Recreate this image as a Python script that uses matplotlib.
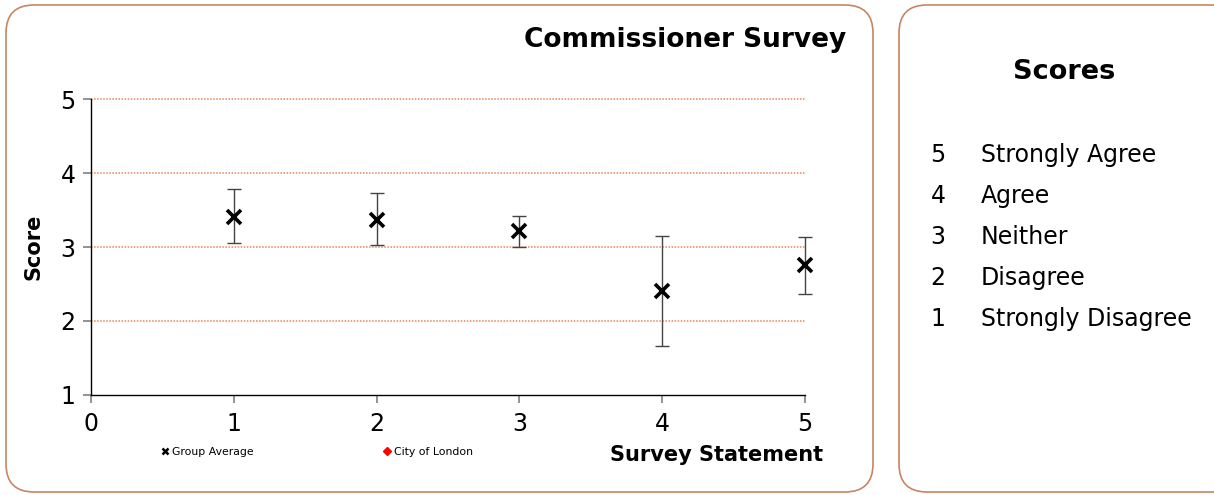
import matplotlib
matplotlib.use('Agg')
from matplotlib import pyplot as plt
from matplotlib.patches import FancyBboxPatch
from matplotlib.lines import Line2D

# survey data
statements = [1, 2, 3, 4, 5]
group_avg = [3.41, 3.37, 3.21, 2.41, 2.76]
err_low = [3.06, 3.03, 3.00, 1.66, 2.37]
err_high = [3.78, 3.73, 3.42, 3.15, 3.14]

score_values = [5, 4, 3, 2, 1]
score_labels = ['Strongly Agree', 'Agree', 'Neither', 'Disagree', 'Strongly Disagree']

plt.rcParams['font.family'] = ['DejaVu Sans']

fig = plt.figure(figsize=(12.14, 4.95), dpi=100)

# background layer in pixel units for the rounded panels
bg = fig.add_axes([0, 0, 1, 1])
bg.set_xlim(0, 1214)
bg.set_ylim(495, 0)
bg.axis('off')
box_col = '#C98462'
bg.add_patch(FancyBboxPatch((6, 5), 867, 487, boxstyle='round,pad=0,rounding_size=28',
                            fc='white', ec=box_col, lw=1.2))
bg.add_patch(FancyBboxPatch((899, 5), 340, 487, boxstyle='round,pad=0,rounding_size=28',
                            fc='white', ec=box_col, lw=1.2))

# main chart
ax = fig.add_axes([91 / 1214, 1 - 395 / 495, (805 - 91) / 1214, (395 - 99) / 495])
ax.set_xlim(0, 5)
ax.set_ylim(1, 5)
ax.set_xticks([0, 1, 2, 3, 4, 5])
ax.set_yticks([1, 2, 3, 4, 5])
for y in [2, 3, 4, 5]:
    ax.axhline(y, color='#E8845A', lw=1.1, ls=(0, (1, 1)), zorder=1, clip_on=False)

lower = [m - lo for m, lo in zip(group_avg, err_low)]
upper = [hi - m for m, hi in zip(group_avg, err_high)]
ax.errorbar(statements, group_avg, yerr=[lower, upper], fmt='none', ecolor='#444444',
            elinewidth=1, capsize=5, capthick=1, zorder=2, clip_on=False)
ax.plot(statements, group_avg, ls='none', marker='x', color='black', ms=10, mew=2.6,
        zorder=3, clip_on=False)

for s in ['top', 'right']:
    ax.spines[s].set_visible(False)
for s in ['left', 'bottom']:
    ax.spines[s].set_color('black')
    ax.spines[s].set_linewidth(1)
ax.tick_params(axis='both', colors='#808080', labelcolor='black', labelsize=17, length=6, width=1.2)
ax.tick_params(axis='x', pad=6)
ax.tick_params(axis='y', pad=5)

ax.set_ylabel('Score', fontsize=15, fontweight='bold', labelpad=12)
fig.text(823 / 1214, 1 - 455 / 495, 'Survey Statement', fontsize=15, fontweight='bold',
         ha='right', va='center')
fig.text(846 / 1214, 1 - 40 / 495, 'Commissioner Survey', fontsize=19, fontweight='bold',
         ha='right', va='center')

handles = [Line2D([], [], ls='none', marker='x', color='black', ms=5, mew=1.8),
           Line2D([], [], ls='none', marker='D', color='red', ms=4.5)]
fig.legend(handles, ['Group Average', 'City of London'], ncol=2, frameon=False,
           fontsize=7.8, handlelength=0.6, handletextpad=0.3, columnspacing=12.1,
           loc='center left', bbox_to_anchor=(152 / 1214, 1 - 452 / 495))

# scores key panel
fig.text(1064 / 1214, 1 - 72 / 495, 'Scores', fontsize=19.5, fontweight='bold',
         ha='center', va='center')
for i, (v, lab) in enumerate(zip(score_values, score_labels)):
    yy = 1 - (155 + i * 41) / 495
    fig.text(938 / 1214, yy, str(v), fontsize=17, ha='center', va='center')
    fig.text(981 / 1214, yy, lab, fontsize=17, ha='left', va='center')

fig.savefig('out.png', dpi=100)
